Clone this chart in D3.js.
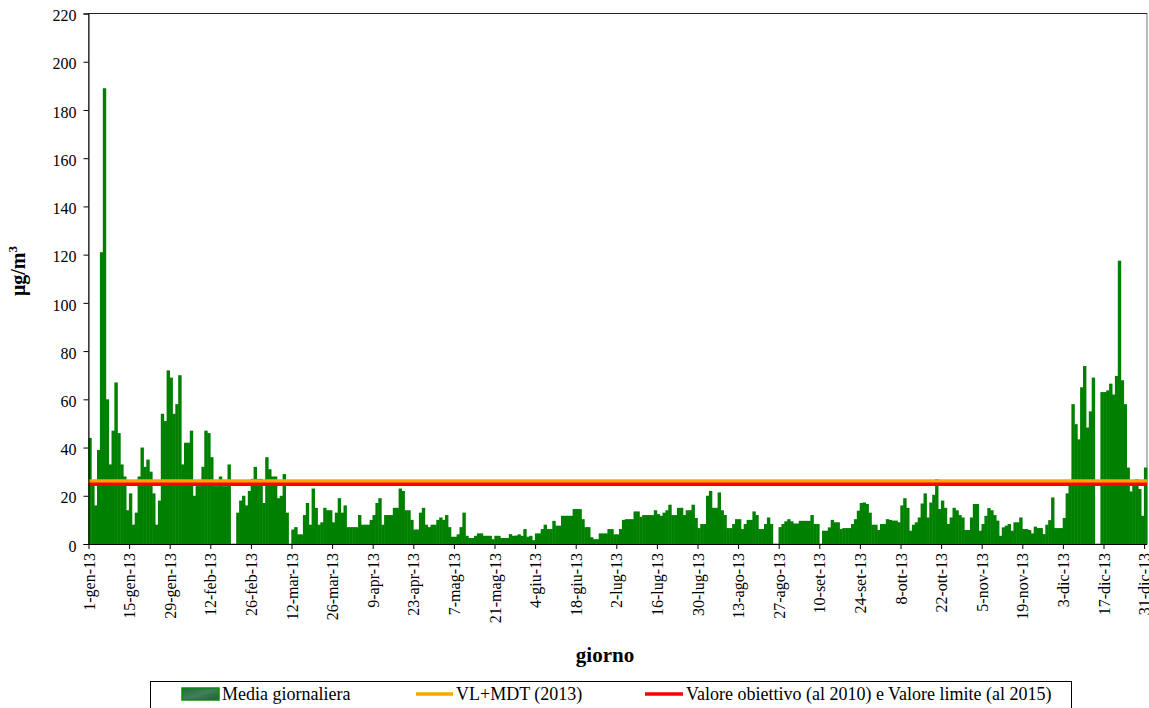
<!DOCTYPE html>
<html>
<head>
<meta charset="utf-8">
<script src="https://cdn.jsdelivr.net/npm/d3@7"></script>
<style>
  body { margin: 0; background: #fff; }
  text { font-family: "Liberation Serif", "Times New Roman", serif; fill: #000; }
</style>
</head>
<body>
<div id="chart"></div>
<script>
// daily means 2013 (μg/m3), one value per day from 1-gen; null = missing day
var values = [
  44, 25, 16, 39, 121, 189, 60, 33, 47, 67,
  46, 33, 28, 14, 21, 8, 13, 28, 40, 32,
  35, 30, 21, 8, 18, 54, 51, 72, 69, 54,
  58, 70, 33, 42, 42, 47, 20, 24, 24, 32,
  47, 46, 36, 24, 24, 28, 24, 24, 33, null,
  null, 13, 18, 20, 16, 22, 27, 32, 27, 27,
  17, 36, 31, 28, 28, 19, 20, 29, 13, null,
  6, 7, 4, 4, 12, 17, 8, 23, 15, 8,
  9, 15, 14, 14, 9, 13, 19, 13, 16, 7,
  7, 7, 7, 12, 8, 8, 8, 10, 12, 17,
  19, 8, 12, 12, 12, 15, 15, 23, 22, 14,
  14, 10, 6, 6, 13, 15, 8, 7, 8, 8,
  10, 11, 10, 12, 7, 3, 3, 4, 7, 13,
  3.4, 2.5, 2.5, 3.4, 4.4, 4.4, 3.4, 3.4, 3.4, 2,
  3.4, 3.4, 2.5, 2.5, 2.5, 4.1, 3.4, 3.5, 4, 3.4,
  6.2, 3, 3.4, 1.6, 4.4, 4.4, 6.2, 8, 6.2, 6.2,
  9.6, 7.6, 7.6, 11.7, 11.7, 11.7, 11.7, 14.5, 14.5, 14.5,
  10.3, 7, 7, 2.8, 2, 2, 4.4, 4.4, 4.4, 6.2,
  6.2, 4, 4, 6.2, 10, 10.3, 10.3, 10.3, 13.5, 13.5,
  11.3, 12, 12, 12, 12, 14, 12.4, 11.7, 13, 14,
  16.3, 12, 12, 15, 15, 12, 14, 14, 16.3, 10.8,
  6.6, 8.3, 8.3, 20, 22, 15, 15, 21.4, 14, 12,
  6.6, 6.6, 8.3, 10.3, 10.3, 6.2, 8.3, 10, 10, 13.5,
  12, 6.2, 6.2, 8.3, 11, 8.3, null, null, 7, 8.3,
  9.4, 10.3, 9.4, 8.5, 8.5, 9.6, 9.6, 9.6, 9.6, 12,
  8.3, 8.3, null, 5.5, 5.5, 6.9, 10, 9, 9, 6.2,
  6.6, 6.6, 6.6, 8.3, 10.3, 13.8, 17, 17.2, 16.6, 13,
  8, 8, 5.8, 8.3, 8.3, 10.3, 10, 9.7, 9.7, 9,
  16, 19, 15, 5.5, 8, 9, 11, 16.8, 21, 11,
  17.2, 20.4, 26.9, 14.5, 18, 15, 8.3, 11, 15, 14,
  12, 11, 5.8, 5.8, 11, 16.6, 16.6, 5.5, 8.3, 11.7,
  14.9, 14, 12, 9.7, 3.4, 6.9, 7.6, 8.3, 5.5, 9,
  9, 11, 6.2, 6.2, 5.8, 4.4, 7.2, 6.6, 6.6, 4.1,
  8, 9.9, 19.3, 6.6, 6.6, 6.6, 10.8, 21, 26.2, 58,
  49.7, 43.4, 65, 73.8, 48.3, 55, 69, null, null, 63,
  63, 63.7, 66.5, 62, 69.7, 117.5, 67.9, 58, 31.7, 21.8,
  25.5, 26.9, 22.8, 11.7, 31.7
];

var tickDays = [0, 14, 28, 42, 56, 70, 84, 98, 112, 126, 140, 154, 168, 182,
                196, 210, 224, 238, 252, 266, 280, 294, 308, 322, 336, 350, 364];
var tickLabels = ["1-gen-13", "15-gen-13", "29-gen-13", "12-feb-13", "26-feb-13",
  "12-mar-13", "26-mar-13", "9-apr-13", "23-apr-13", "7-mag-13", "21-mag-13",
  "4-giu-13", "18-giu-13", "2-lug-13", "16-lug-13", "30-lug-13", "13-ago-13",
  "27-ago-13", "10-set-13", "24-set-13", "8-ott-13", "22-ott-13", "5-nov-13",
  "19-nov-13", "3-dic-13", "17-dic-13", "31-dic-13"];
var yTicks = [0, 20, 40, 60, 80, 100, 120, 140, 160, 180, 200, 220];

var vlMdt = 26;      // VL+MDT (2013)
var vlLimite = 25;   // Valore obiettivo / limite

var width = 1149, height = 708;
var plotL = 88.5, plotR = 1147, plotT = 13.5, plotB = 544;

var svg = d3.select("#chart").append("svg")
    .attr("width", width)
    .attr("height", height);

var x = d3.scaleLinear().domain([0, values.length]).range([plotL, plotR]);
var y = d3.scaleLinear().domain([0, 220]).range([plotB, plotT]);
var step = x(1) - x(0);

// plot frame
svg.append("rect")
    .attr("x", plotL).attr("y", plotT)
    .attr("width", plotR - plotL).attr("height", plotB - plotT)
    .attr("fill", "none").attr("stroke", "#777").attr("stroke-width", 1);
svg.append("line")
    .attr("x1", plotL).attr("x2", plotR).attr("y1", plotT).attr("y2", plotT)
    .attr("stroke", "#222");

// bars
var g = svg.append("g");
g.selectAll("rect.bar")
    .data(values.map(function (v, i) { return {i: i, v: v}; }).filter(function (d) { return d.v != null; }))
    .enter()
    .append("rect")
    .attr("class", "bar")
    .attr("x", function (d) { return x(d.i) - 0.2; })
    .attr("width", step + 0.5)
    .attr("y", function (d) { return y(d.v); })
    .attr("height", function (d) { return y(0) - y(d.v); })
    .attr("fill", "#008000");

// limit lines
svg.append("line")
    .attr("x1", plotL).attr("x2", plotR)
    .attr("y1", y(vlMdt)).attr("y2", y(vlMdt))
    .attr("stroke", "#ffa500").attr("stroke-width", 4);
svg.append("line")
    .attr("x1", plotL).attr("x2", plotR)
    .attr("y1", y(vlLimite) + 0.5).attr("y2", y(vlLimite) + 0.5)
    .attr("stroke", "#ff0000").attr("stroke-width", 3.5);

// y axis
var yAxis = svg.append("g")
    .attr("transform", "translate(" + plotL + ",0)")
    .call(d3.axisLeft(y).tickValues(yTicks).tickSize(5).tickPadding(7));
yAxis.select(".domain").attr("stroke", "#000");
yAxis.selectAll("text")
    .attr("font-size", 16)
    .attr("font-family", "Liberation Serif")
    .attr("dy", "0.45em");

// x axis
var xAxis = svg.append("g")
    .attr("transform", "translate(0," + plotB + ")")
    .call(d3.axisBottom(x).tickValues(tickDays).tickSize(5)
        .tickFormat(function (d, i) { return tickLabels[i]; }));
xAxis.select(".domain").attr("stroke", "#000").attr("d", "M" + plotL + ",0.5H" + plotR);
xAxis.selectAll("text")
    .attr("font-size", 16)
    .attr("font-family", "Liberation Serif")
    .attr("text-anchor", "end")
    .attr("transform", "rotate(-90)")
    .attr("x", -9)
    .attr("y", 0)
    .attr("dy", "0.35em");

// axis titles
svg.append("text")
    .attr("x", 605).attr("y", 662)
    .attr("text-anchor", "middle")
    .attr("font-size", 21).attr("font-weight", "bold")
    .text("giorno");

var yt = svg.append("text")
    .attr("transform", "translate(25,271) rotate(-90)")
    .attr("text-anchor", "middle")
    .attr("font-size", 20).attr("font-weight", "bold");
yt.append("tspan").text("μg/m");
yt.append("tspan").attr("font-size", 13).attr("dy", -8).text("3");

// legend
var lg = svg.append("g");
lg.append("rect")
    .attr("x", 150.5).attr("y", 681.5).attr("width", 921).attr("height", 40)
    .attr("fill", "#fff").attr("stroke", "#000");
var grad = svg.append("defs").append("linearGradient")
    .attr("id", "sw").attr("x1", 0).attr("x2", 1).attr("y1", 0).attr("y2", 1);
grad.append("stop").attr("offset", "0%").attr("stop-color", "#1d6b34");
grad.append("stop").attr("offset", "50%").attr("stop-color", "#3f7f5a");
grad.append("stop").attr("offset", "100%").attr("stop-color", "#1f5f2f");
lg.append("rect")
    .attr("x", 182).attr("y", 688).attr("width", 37).attr("height", 12)
    .attr("fill", "url(#sw)").attr("stroke", "#0a8a0a").attr("stroke-width", 1.5);
lg.append("text").attr("x", 222).attr("y", 700).attr("font-size", 18)
    .text("Media giornaliera");
lg.append("line").attr("x1", 416).attr("x2", 453).attr("y1", 694).attr("y2", 694)
    .attr("stroke", "#ffa500").attr("stroke-width", 3.5);
lg.append("text").attr("x", 456).attr("y", 700).attr("font-size", 18)
    .text("VL+MDT (2013)");
lg.append("line").attr("x1", 645).attr("x2", 683).attr("y1", 694).attr("y2", 694)
    .attr("stroke", "#ff0000").attr("stroke-width", 3.5);
lg.append("text").attr("x", 686).attr("y", 700).attr("font-size", 18)
    .text("Valore obiettivo (al 2010) e Valore limite (al 2015)");
</script>
</body>
</html>
